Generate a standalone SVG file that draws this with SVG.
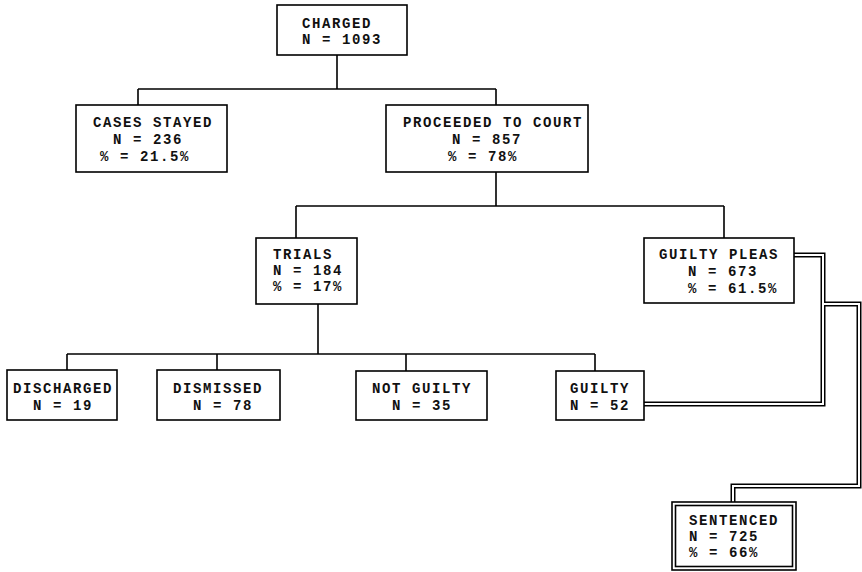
<svg xmlns="http://www.w3.org/2000/svg" width="862" height="572" viewBox="0 0 862 572">
<style>
.box{fill:#fff;stroke:#000;stroke-width:1.6}
.ln{fill:none;stroke:#000;stroke-width:1.6}
.dblo{fill:none;stroke:#000;stroke-width:5}
.dbli{fill:none;stroke:#fff;stroke-width:2}
text{font-family:"Liberation Mono","Courier New",monospace;font-weight:bold;font-size:14px;letter-spacing:1.6px;fill:#111}
</style>
<rect width="862" height="572" fill="#fff"/>
<g id="connectors">
<path class="ln" d="M337,55V89M138,89H496M138,89V105M496,89V105"/>
<path class="ln" d="M496,172V206M296,206H724M296,206V238M724,206V238"/>
<path class="ln" d="M318,304V354M67,354H595M67,354V370M217,354V370M406,354V371M595,354V371"/>
<path class="dblo" d="M644,404H823V255H794M823,304H859V486H733V502"/>
<path class="dbli" d="M644,404H823V255H794M823,304H859V486H733V502"/>
</g>
<g id="charged">
<rect class="box" x="277" y="5" width="130" height="50"/>
<text x="302" y="28">CHARGED</text>
<text x="302" y="44" xml:space="preserve">N = 1093</text>
</g>
<g id="stayed">
<rect class="box" x="76" y="105" width="151" height="67"/>
<text x="93" y="127">CASES STAYED</text>
<text x="113" y="144" xml:space="preserve">N = 236</text>
<text x="100" y="160.5" xml:space="preserve">% = 21.5%</text>
</g>
<g id="court">
<rect class="box" x="386" y="105" width="202" height="67"/>
<text x="403" y="127">PROCEEDED TO COURT</text>
<text x="452" y="144" xml:space="preserve">N = 857</text>
<text x="448" y="160.5" xml:space="preserve">% = 78%</text>
</g>
<g id="trials">
<rect class="box" x="256" y="238" width="101" height="66"/>
<text x="273" y="259">TRIALS</text>
<text x="273" y="275" xml:space="preserve">N = 184</text>
<text x="273" y="291" xml:space="preserve">% = 17%</text>
</g>
<g id="pleas">
<rect class="box" x="644" y="238" width="150" height="65"/>
<text x="659" y="259">GUILTY PLEAS</text>
<text x="688" y="276" xml:space="preserve">N = 673</text>
<text x="688" y="293" xml:space="preserve">% = 61.5%</text>
</g>
<g id="discharged">
<rect class="box" x="7" y="370" width="110" height="50"/>
<text x="13" y="393">DISCHARGED</text>
<text x="33" y="410" xml:space="preserve">N = 19</text>
</g>
<g id="dismissed">
<rect class="box" x="157" y="370" width="123" height="50"/>
<text x="173" y="393">DISMISSED</text>
<text x="193" y="410" xml:space="preserve">N = 78</text>
</g>
<g id="notguilty">
<rect class="box" x="356" y="371" width="131" height="49"/>
<text x="372" y="393">NOT GUILTY</text>
<text x="392" y="410" xml:space="preserve">N = 35</text>
</g>
<g id="guilty">
<rect class="box" x="556" y="371" width="88" height="49"/>
<text x="570" y="393">GUILTY</text>
<text x="570" y="410" xml:space="preserve">N = 52</text>
</g>
<g id="sentenced">
<rect class="box" x="672" y="502" width="124" height="68"/>
<rect class="box" x="675.5" y="505.5" width="117" height="61"/>
<text x="689" y="525">SENTENCED</text>
<text x="689" y="541" xml:space="preserve">N = 725</text>
<text x="689" y="557" xml:space="preserve">% = 66%</text>
</g>
</svg>
